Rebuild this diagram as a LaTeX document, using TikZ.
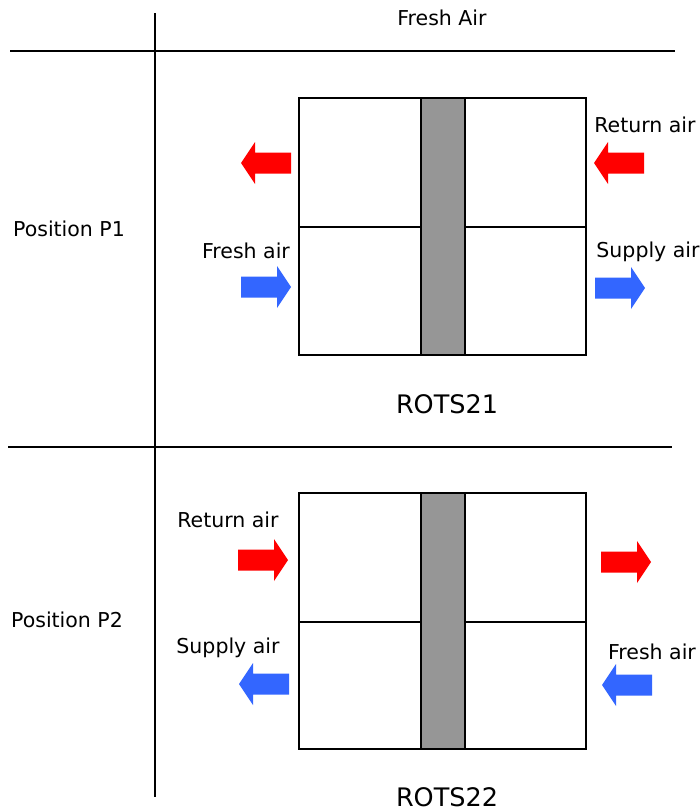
\documentclass[tikz,border=0pt]{standalone}
\usepackage{fontspec}
\setmainfont{DejaVu Sans}
\definecolor{airred}{HTML}{FF0000}
\definecolor{airblue}{HTML}{3366FF}
\definecolor{wheelgray}{HTML}{969696}
\begin{document}
\begin{tikzpicture}[x=1pt,y=-1pt,
  lbl/.style={inner sep=0pt,font=\fontsize{20.5}{23}\selectfont},
  big/.style={inner sep=0pt,font=\fontsize{25.5}{28}\selectfont},
  frame/.style={line width=2pt},
  cell/.style={draw,line width=1.8pt,fill=white},
  wheel/.style={draw,line width=1.8pt,fill=wheelgray},
  airarrow/.pic={\fill (-25,-10.5) -- (11,-10.5) -- (11,-21) -- (25,0) -- (11,21) -- (11,10.5) -- (-25,10.5) -- cycle;}
]
\useasboundingbox (0,0) rectangle (699,811);
% frame lines
\coordinate (vt) at (155,13);
\coordinate (vb) at (155,797);
\coordinate (h1l) at (10,51);
\coordinate (h1r) at (675,51);
\coordinate (h2l) at (8,447);
\coordinate (h2r) at (672,447);
\draw[frame] (vt) -- (vb);
\draw[frame] (h1l) -- (h1r);
\draw[frame] (h2l) -- (h2r);
\node[lbl] (fresh) at (442,18) {Fresh Air};

% ---- ROTS21 ----
\draw[cell] (299,98) rectangle (586,355);
\draw[line width=1.8pt] (299,227) -- (586,227);
\draw[wheel] (421,98) rectangle (465,355);
\node[big] (r21) at (447,404) {ROTS21};
\node[lbl] (p1) at (69,229) {Position P1};
\node[lbl] (fa1) at (246,251) {Fresh air};
\node[lbl] (ra1) at (645,125) {Return air};
\node[lbl] (sa1) at (648,252) {Supply air};
\pic[airred,xscale=-1] at (266,163) {airarrow};
\pic[airred,xscale=-1] at (619,163) {airarrow};
\pic[airblue] at (266,287) {airarrow};
\pic[airblue] at (620,288) {airarrow};

% ---- ROTS22 ----
\draw[cell] (299,493) rectangle (586,749);
\draw[line width=1.8pt] (299,622) -- (586,622);
\draw[wheel] (421,493) rectangle (465,749);
\node[big] (r22) at (447,797) {ROTS22};
\node[lbl] (p2) at (67,620) {Position P2};
\node[lbl] (ra2) at (228,520) {Return air};
\node[lbl] (sa2) at (228,648) {Supply air};
\node[lbl] (fa2) at (652,652) {Fresh air};
\pic[airred] at (263,560) {airarrow};
\pic[airred] at (626,562) {airarrow};
\pic[airblue,xscale=-1] at (264,684) {airarrow};
\pic[airblue,xscale=-1] at (627,685) {airarrow};
\end{tikzpicture}
\end{document}
